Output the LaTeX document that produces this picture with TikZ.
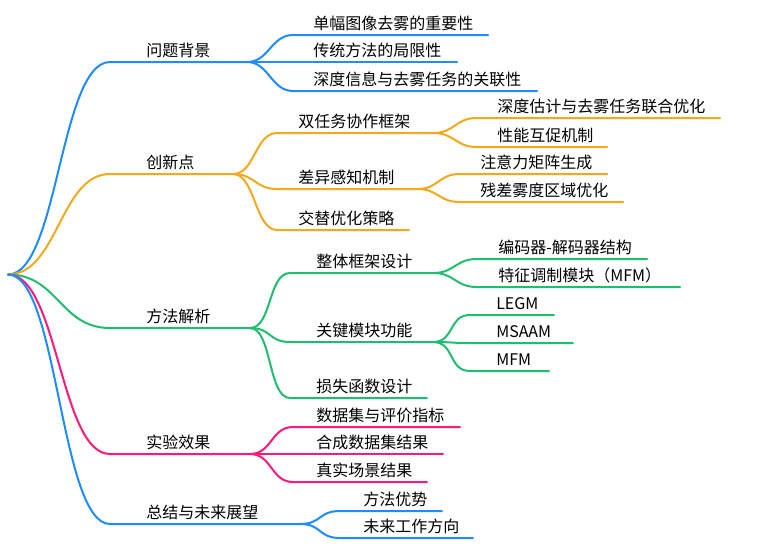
\documentclass[tikz,border=0pt]{standalone}
\usepackage{fontspec}
\newfontfamily\cjk{Noto Sans CJK SC}
\definecolor{cBlue}{RGB}{30,140,255}
\definecolor{cOrange}{RGB}{245,168,28}
\definecolor{cGreen}{RGB}{30,190,110}
\definecolor{cPink}{RGB}{255,25,120}
\begin{document}
\begin{tikzpicture}[x=0.75pt,y=-0.75pt,
  lbl/.style={anchor=base west, inner sep=0pt, font=\cjk\fontsize{12}{14}\selectfont},
  br/.style={line width=1.5pt, line cap=round},
  rootc/.style={br, .. controls +(50,0) and +(-50,0) ..},
]
\useasboundingbox (0,0) rectangle (759,558);
\coordinate (root) at (8,274.5);

% ---------- level 1 ----------
\coordinate (a1s) at (110,62);  \coordinate (a1e) at (247,62);
\node[lbl] (a1) at (146,56) {问题背景};
\coordinate (a2s) at (110,174); \coordinate (a2e) at (233,174);
\node[lbl] (a2) at (146,168) {创新点};
\coordinate (a3s) at (110,328); \coordinate (a3e) at (250,328);
\node[lbl] (a3) at (146,322) {方法解析};
\coordinate (a4s) at (110,454); \coordinate (a4e) at (250,454);
\node[lbl] (a4) at (146,448) {实验效果};
\coordinate (a5s) at (110,524); \coordinate (a5e) at (300,524);
\node[lbl] (a5) at (146,518) {总结与未来展望};

% ---------- level 2 ----------
\coordinate (b11s) at (293,35); \coordinate (b11e) at (488,35);
\node[lbl] (b11) at (313,29) {单幅图像去雾的重要性};
\coordinate (b12s) at (293,62); \coordinate (b12e) at (457,62);
\node[lbl] (b12) at (313,56) {传统方法的局限性};
\coordinate (b13s) at (293,91); \coordinate (b13e) at (537,91);
\node[lbl] (b13) at (313,85) {深度信息与去雾任务的关联性};

\coordinate (b21s) at (277,133); \coordinate (b21e) at (433,133);
\node[lbl] (b21) at (298,127) {双任务协作框架};
\coordinate (b22s) at (277,189); \coordinate (b22e) at (417,189);
\node[lbl] (b22) at (298,183) {差异感知机制};
\coordinate (b23s) at (277,230); \coordinate (b23e) at (409,230);
\node[lbl] (b23) at (298,224) {交替优化策略};

\coordinate (b31s) at (290,273); \coordinate (b31e) at (433,273);
\node[lbl] (b31) at (316,267) {整体框架设计};
\coordinate (b32s) at (290,342); \coordinate (b32e) at (433,342);
\node[lbl] (b32) at (316,336) {关键模块功能};
\coordinate (b33s) at (290,398); \coordinate (b33e) at (427,398);
\node[lbl] (b33) at (316,392) {损失函数设计};

\coordinate (b41s) at (293,427); \coordinate (b41e) at (460,427);
\node[lbl] (b41) at (316,421) {数据集与评价指标};
\coordinate (b42s) at (293,454); \coordinate (b42e) at (443,454);
\node[lbl] (b42) at (316,448) {合成数据集结果};
\coordinate (b43s) at (293,482); \coordinate (b43e) at (427,482);
\node[lbl] (b43) at (316,476) {真实场景结果};

\coordinate (b51s) at (340,511); \coordinate (b51e) at (442,511);
\node[lbl] (b51) at (363,505) {方法优势};
\coordinate (b52s) at (340,538); \coordinate (b52e) at (473,538);
\node[lbl] (b52) at (363,532) {未来工作方向};

% ---------- level 3 ----------
\coordinate (c211s) at (477,118); \coordinate (c211e) at (720,118);
\node[lbl] (c211) at (497,112) {深度估计与去雾任务联合优化};
\coordinate (c212s) at (477,147); \coordinate (c212e) at (607,147);
\node[lbl] (c212) at (497,141) {性能互促机制};
\coordinate (c221s) at (460,174); \coordinate (c221e) at (607,174);
\node[lbl] (c221) at (480,168) {注意力矩阵生成};
\coordinate (c222s) at (460,202); \coordinate (c222e) at (623,202);
\node[lbl] (c222) at (480,196) {残差雾度区域优化};

\coordinate (c311s) at (477,259); \coordinate (c311e) at (647,259);
\node[lbl] (c311) at (498,253) {编码器-解码器结构};
\coordinate (c312s) at (477,287); \coordinate (c312e) at (680,287);
\node[lbl] (c312) at (498,281) {特征调制模块（MFM）};
\coordinate (c321s) at (470,315); \coordinate (c321e) at (554,315);
\node[lbl] (c321) at (496,309) {LEGM};
\coordinate (c322s) at (470,343); \coordinate (c322e) at (573,343);
\node[lbl] (c322) at (496,337) {MSAAM};
\coordinate (c323s) at (470,371); \coordinate (c323e) at (549,371);
\node[lbl] (c323) at (496,365) {MFM};

% ---------- connectors ----------
\draw[br,cBlue]   (root) .. controls +(50,0) and +(-50,0) .. (a1s) -- (a1e);
\draw[br,cOrange] (root) .. controls +(50,0) and +(-50,0) .. (a2s) -- (a2e);
\draw[br,cGreen]  (root) .. controls +(50,0) and +(-50,0) .. (a3s) -- (a3e);
\draw[br,cPink]   (root) .. controls +(50,0) and +(-50,0) .. (a4s) -- (a4e);
\draw[br,cBlue]   (root) .. controls +(50,0) and +(-50,0) .. (a5s) -- (a5e);

\foreach \p/\c/\col in {a1/b11/cBlue,a1/b12/cBlue,a1/b13/cBlue,
                        a2/b21/cOrange,a2/b22/cOrange,a2/b23/cOrange,
                        a3/b31/cGreen,a3/b32/cGreen,a3/b33/cGreen,
                        a4/b41/cPink,a4/b42/cPink,a4/b43/cPink,
                        a5/b51/cBlue,a5/b52/cBlue,
                        b21/c211/cOrange,b21/c212/cOrange,
                        b22/c221/cOrange,b22/c222/cOrange,
                        b31/c311/cGreen,b31/c312/cGreen,
                        b32/c321/cGreen,b32/c322/cGreen,b32/c323/cGreen}
  \draw[br,\col] (\p e) .. controls +(22,0) and +(-22,0) .. (\c s) -- (\c e);
\end{tikzpicture}
\end{document}
